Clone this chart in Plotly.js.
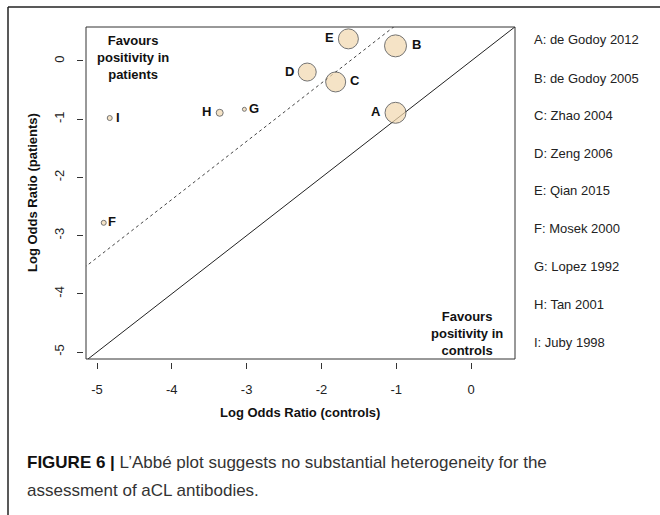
<!DOCTYPE html>
<html>
<head>
<meta charset="utf-8">
<script src="https://cdn.plot.ly/plotly-3.0.1.min.js"></script>
<style>html,body{margin:0;padding:0;background:#fff;}#chart{width:660px;height:515px;}</style>
</head>
<body>
<div id="chart"></div>
<script>
// ---- data ----
var studyLabels = ["A", "B", "C", "D", "E", "F", "G", "H", "I"];
var studyNames = ["de Godoy 2012", "de Godoy 2005", "Zhao 2004", "Zeng 2006", "Qian 2015", "Mosek 2000", "Lopez 1992", "Tan 2001", "Juby 1998"];
var logOrControls = [-1.01, -1.01, -1.81, -2.19, -1.64, -4.91, -3.03, -3.36, -4.83];
var logOrPatients = [-0.89, 0.26, -0.36, -0.19, 0.38, -2.78, -0.83, -0.89, -0.98];
var studyWeight = [21, 22, 20, 18, 20, 5, 4, 7, 5];
var pooledShift = 1.62;
var refX = [-5.3, 0.7];
var xTicks = [-5, -4, -3, -2, -1, 0];
var yTicks = [-5, -4, -3, -2, -1, 0];

// ---- geometry helpers (pixel -> paper) ----
var W = 660, H = 515, mL = 83, mR = 145, mT = 27, mB = 153;
var pw = W - mL - mR, ph = H - mT - mB;
function px(x) { return (x - mL) / pw; }
function py(y) { return (H - mB - y) / ph; }

var font = "Liberation Sans, Arial, sans-serif";
var narrow = "Liberation Sans Narrow, Arial Narrow, Liberation Sans, Arial, sans-serif";

var traces = [
  {x: refX, y: refX.map(function (v) { return v; }), mode: "lines", type: "scatter",
   line: {color: "#222", width: 1}, hoverinfo: "skip", showlegend: false},
  {x: refX, y: refX.map(function (v) { return v + pooledShift; }), mode: "lines", type: "scatter",
   line: {color: "#444", width: 1, dash: "3px,3px"}, hoverinfo: "skip", showlegend: false},
  {x: logOrControls, y: logOrPatients, mode: "markers", type: "scatter",
   marker: {size: studyWeight, color: "#F2D8AE", line: {color: "#3a3a3a", width: 1}},
   text: studyNames, showlegend: false}
];

var labelShift = [-20, 21, 19, -18, -19, 8, 10, -13, 8];
var annotations = [];
for (var i = 0; i < studyLabels.length; i++) {
  annotations.push({x: logOrControls[i], y: logOrPatients[i], xref: "x", yref: "y",
    text: "<b>" + studyLabels[i] + "</b>", showarrow: false, xshift: labelShift[i], yshift: 1,
    font: {family: font, size: 13, color: "#111"}});
}
// legend list at right
var legY = [40, 78, 115, 153, 190, 228, 266, 304, 342];
for (var j = 0; j < studyLabels.length; j++) {
  annotations.push({x: px(532), y: py(legY[j]), xref: "paper", yref: "paper", xanchor: "left", yanchor: "middle",
    text: studyLabels[j] + ": " + studyNames[j], showarrow: false,
    font: {family: font, size: 13, color: "#222"}});
}
// corner notes
annotations.push({x: px(133), y: py(58), xref: "paper", yref: "paper", xanchor: "center", yanchor: "middle",
  text: "<b>Favours<br>positivity in<br>patients</b>", showarrow: false, align: "center",
  font: {family: font, size: 13, color: "#111"}});
annotations.push({x: px(467), y: py(333), xref: "paper", yref: "paper", xanchor: "center", yanchor: "middle",
  text: "<b>Favours<br>positivity in<br>controls</b>", showarrow: false, align: "center",
  font: {family: font, size: 13, color: "#111"}});
// axis titles
annotations.push({x: px(32), y: py(193), xref: "paper", yref: "paper", xanchor: "center", yanchor: "middle",
  text: "<b>Log Odds Ratio (patients)</b>", textangle: -90, showarrow: false,
  font: {family: font, size: 13, color: "#111"}});
annotations.push({x: px(300), y: py(412), xref: "paper", yref: "paper", xanchor: "center", yanchor: "middle",
  text: "<b>Log Odds Ratio (controls)</b>", showarrow: false,
  font: {family: font, size: 13, color: "#111"}});
// caption
annotations.push({x: px(25), y: py(462), xref: "paper", yref: "paper", xanchor: "left", yanchor: "middle",
  text: "<b><span style='color:#111'>FIGURE 6 |</span></b> L\u2019Abb\u00e9 plot suggests no substantial heterogeneity for the",
  showarrow: false, font: {family: narrow, size: 17, color: "#333"}});
annotations.push({x: px(25), y: py(490), xref: "paper", yref: "paper", xanchor: "left", yanchor: "middle",
  text: "assessment of aCL antibodies.",
  showarrow: false, font: {family: narrow, size: 17, color: "#333"}});

var xd0 = px(86), yd0 = py(359);
var shapes = [
  {type: "rect", xref: "paper", yref: "paper", x0: xd0, x1: 1, y0: yd0, y1: 1,
   line: {color: "#333", width: 1}, fillcolor: "rgba(0,0,0,0)"},
  {type: "line", xref: "paper", yref: "paper", x0: px(8), x1: px(8), y0: py(7), y1: py(515),
   line: {color: "#222", width: 1.5}},
  {type: "line", xref: "paper", yref: "paper", x0: px(8), x1: px(660), y0: py(7), y1: py(7),
   line: {color: "#222", width: 1.5}}
];

var layout = {
  width: W, height: H,
  margin: {l: mL, r: mR, t: mT, b: mB, pad: 0},
  paper_bgcolor: "#fff", plot_bgcolor: "#fff",
  showlegend: false,
  xaxis: {domain: [xd0, 1], range: [-5.147, 0.587], anchor: "free", position: 0,
    tickvals: xTicks, ticktext: xTicks.map(String), ticks: "outside", ticklen: 6, tickcolor: "#333",
    ticklabelstandoff: 9,
    showgrid: false, zeroline: false, showline: false,
    tickfont: {family: font, size: 13, color: "#222"}},
  yaxis: {domain: [yd0, 1], range: [-5.12, 0.584], anchor: "free", position: 0,
    tickvals: yTicks, ticktext: yTicks.map(String), ticks: "outside", ticklen: 6, tickcolor: "#333",
    ticklabelstandoff: 8,
    tickangle: -90, showgrid: false, zeroline: false, showline: false,
    tickfont: {family: font, size: 13, color: "#222"}},
  annotations: annotations,
  shapes: shapes
};

Plotly.newPlot("chart", traces, layout, {displayModeBar: false, staticPlot: true});
</script>
</body>
</html>
